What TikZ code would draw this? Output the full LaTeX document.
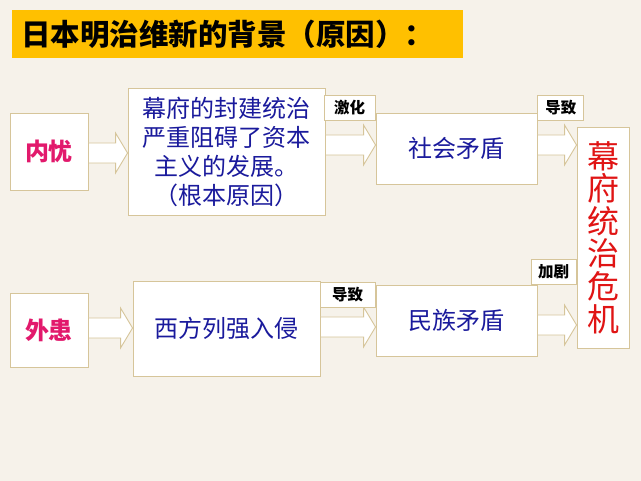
\documentclass[tikz,border=0pt]{standalone}
\usepackage{fontspec}
\setmainfont{Noto Sans CJK SC}
\usepackage{tikz}
\usetikzlibrary{calc}

\definecolor{fondo}{HTML}{F6F2EA}
\definecolor{barra}{HTML}{FFC000}
\definecolor{borde}{HTML}{D6C59A}
\definecolor{rosa}{HTML}{E2196C}
\definecolor{azul}{HTML}{1A1A9C}
\definecolor{rojo}{HTML}{E01414}

% flecha gruesa de un nodo a otro (#1: desplazamiento vertical)
\newcommand{\flecha}[3][0]{%
  \draw[flechagorda] let \p1=(#2.east), \p2=(#3.west) in
    ({\x1},{\y1+(#1)*1pt+10pt}) -- ({\x2-12pt},{\y1+(#1)*1pt+10pt})
    -- ({\x2-12pt},{\y1+(#1)*1pt+20pt}) -- ({\x2},{\y1+(#1)*1pt})
    -- ({\x2-12pt},{\y1+(#1)*1pt-20pt}) -- ({\x2-12pt},{\y1+(#1)*1pt-10pt})
    -- ({\x1},{\y1+(#1)*1pt-10pt}) -- cycle;}

\begin{document}
\begin{tikzpicture}[x=1pt, y=-1pt,
    caja/.style={draw=borde, fill=white, line width=0.9pt, inner sep=0pt, align=center},
    etiqueta/.style={draw=borde, fill=white, line width=0.9pt, inner sep=0pt,
      minimum height=25pt, font=\fontsize{15.5}{15.5}\selectfont\bfseries},
    flechagorda/.style={draw=borde, fill=white, line width=0.9pt, line join=miter}]
    \fill[fondo] (0,0) rectangle (641,481);
    \useasboundingbox (0,0) rectangle (641,481);

    % titulo
    \node[fill=barra, anchor=north west, minimum height=48pt, text width=433pt,
      inner xsep=9pt, inner ysep=0pt, align=left,
      font=\fontsize{29.5}{29.5}\selectfont\bfseries] (titulo) at (12,10)
      {日本明治维新的背景（原因）：};

    % fila superior
    \node[caja, minimum width=78pt, minimum height=77pt, text=rosa,
      font=\fontsize{24}{24}\selectfont\bfseries] (neiyou) at (49,151.5) {内忧};
    \node[caja, minimum width=197pt, minimum height=127pt, text=azul,
      font=\fontsize{24}{29}\selectfont] (fengjian) at (226.5,151.5)
      {幕府的封建统治\\严重阻碍了资本\\主义的发展。\\（根本原因）};
    \node[caja, minimum width=161pt, minimum height=71pt, text=azul,
      font=\fontsize{24}{24}\selectfont] (shehui) at (456.5,148.5) {社会矛盾};

    % fila inferior
    \node[caja, minimum width=78pt, minimum height=74pt, text=rosa,
      font=\fontsize{24}{24}\selectfont\bfseries] (waihuan) at (49,330) {外患};
    \node[caja, minimum width=187pt, minimum height=95pt, text=azul,
      font=\fontsize{24}{24}\selectfont] (xifang) at (226.5,328.5) {西方列强入侵};
    \node[caja, minimum width=161pt, minimum height=71pt, text=azul,
      font=\fontsize{24}{24}\selectfont] (minzu) at (456.5,320.5) {民族矛盾};

    % crisis
    \node[caja, minimum width=52pt, minimum height=221pt, text=rojo,
      font=\fontsize{32}{32.6}\selectfont] (weiji) at (603,237.5)
      {幕\\府\\统\\治\\危\\机};

    % flechas
    \flecha[-1.5]{neiyou}{fengjian}
    \flecha[6.5]{fengjian}{shehui}
    \flecha[3.5]{shehui}{weiji}
    \flecha[2]{waihuan}{xifang}
    \flecha[1.5]{xifang}{minzu}
    \flecha[-4.5]{minzu}{weiji}

    % etiquetas
    \node[etiqueta, minimum width=51pt, anchor=north east] (jihua)
      at ([yshift=18pt]shehui.north west) {激化};
    \node[etiqueta, minimum width=46pt, anchor=north west] (daozhi1)
      at ([yshift=18pt]shehui.north east) {导致};
    \node[etiqueta, minimum width=55pt, anchor=north east] (daozhi2)
      at ([yshift=3pt]minzu.north west) {导致};
    \node[etiqueta, minimum width=45pt, anchor=south east] (jiaju)
      at (weiji.west |- minzu.north) {加剧};
\end{tikzpicture}
\end{document}
